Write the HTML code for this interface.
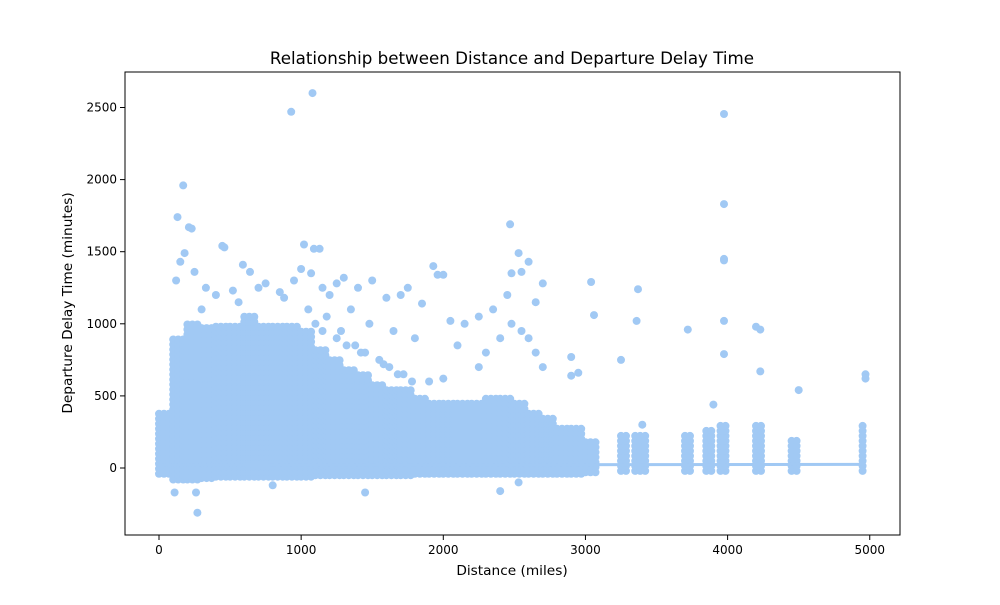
<!DOCTYPE html>
<html><head><meta charset="utf-8"><style>
body{margin:0;background:#fff;font-family:"Liberation Sans","DejaVu Sans",sans-serif;}
svg text{font-family:"DejaVu Sans","Liberation Sans",sans-serif;fill:#000;}
</style></head><body>
<svg id="chart" width="1000" height="600">
<rect width="1000" height="600" fill="#fff"/>
<g id="marks"></g>
<g id="axes"></g>
<text x="512" y="64" font-size="16.7" text-anchor="middle">Relationship between Distance and Departure Delay Time</text>
<text x="512" y="575" font-size="13.7" text-anchor="middle">Distance (miles)</text>
<text x="0" y="0" font-size="13.7" text-anchor="middle" transform="translate(72,303) rotate(-90)">Departure Delay Time (minutes)</text>
</svg>
<script>
// dense band columns (distance start, top and bottom of the cloud)
const colDist = [0,100,200,300,400,500,600,700,800,900,1000,1100,1200,1300,1400,1500,1600,1700,1800,1900,2000,2100,2200,2300,2400,2500,2600,2700,2800,2900,3000,3250,3350,3700,3850,3950,4200,4450,4950];
const colTop  = [400,900,1000,1000,1000,1000,1050,1000,1000,1000,950,850,750,700,650,600,550,550,500,450,450,450,450,500,500,450,400,350,300,300,200,250,250,250,280,300,300,200,300];
const colBot  = [-40,-80,-80,-70,-60,-60,-60,-60,-60,-60,-60,-50,-50,-50,-50,-50,-50,-50,-40,-40,-40,-40,-40,-40,-40,-40,-40,-40,-40,-40,-30,-20,-20,-20,-20,-20,-20,-20,-20];
const colWidth = [100,100,100,100,100,100,100,100,100,100,100,100,100,100,100,100,100,100,100,100,100,100,100,100,100,100,100,100,100,100,80,60,80,40,40,40,60,60,20];
// outlier points
const outX = [930,1080,170,3975,3975,3975,3975,3975,3975,130,210,230,445,460,1020,1090,1130,2470,2530,2600,2480,2550,3040,3370,3360,3060,3720,4200,4230,4230,4500,4970,4970,3250,2900,1930,1960,2000,590,640,1000,1070,270,110,260,1450,2400,2530,800,3400,3900,2950,2900,150,180,250,330,400,520,700,750,850,950,1150,1250,1300,1400,1500,1600,1700,1750,1850,2050,2150,2250,2350,2450,2650,2700,120,300,560,880,1200,1350,1480,1650,1800,2100,2300,2600,1100,1150,1250,1320,1420,1550,1620,1720,1900,2000,2250,2400,2480,2550,2650,2700,1050,1180,1280,1380,1450,1580,1680,1780];
const outY = [2470,2600,1960,2455,1830,1450,1440,1020,790,1740,1670,1660,1540,1530,1550,1520,1520,1690,1490,1430,1350,1360,1290,1240,1020,1060,960,980,960,670,540,650,620,750,770,1400,1340,1340,1410,1360,1380,1350,-310,-170,-170,-170,-160,-100,-120,300,440,660,640,1430,1490,1360,1250,1200,1230,1250,1280,1220,1300,1250,1280,1320,1250,1300,1180,1200,1250,1140,1020,1000,1050,1100,1200,1150,1280,1300,1100,1150,1180,1200,1100,1000,950,900,850,800,900,1000,950,900,850,800,750,700,650,600,620,700,900,1000,950,800,700,1100,1050,950,850,800,720,650,600];
const xTicks=[0,1000,2000,3000,4000,5000];
const yTicks=[0,500,1000,1500,2000,2500];
const fitX=[0,4970], fitY=[20,25];

const X=d=>159+d*0.14215;
const Y=v=>468-v*0.1442;
const NS="http://www.w3.org/2000/svg";
const marks=document.getElementById('marks'), axes=document.getElementById('axes');
const C="#a1c9f4";
function dot(x,y){
  const c=document.createElementNS(NS,'circle');
  c.setAttribute('cx',x.toFixed(1));c.setAttribute('cy',y.toFixed(1));c.setAttribute('r',4);c.setAttribute('fill',C);
  
  
  marks.appendChild(c);
}
colDist.forEach((d,i)=>{
  const x0=X(d),x1=X(d+colWidth[i]);
  for(let x=x0;x<=x1;x+=5){
    for(let y=Y(colBot[i]);y>=Y(colTop[i]);y-=5) dot(x,y);
  }
});
outX.forEach((d,i)=>dot(X(d),Y(outY[i])));
const ln=document.createElementNS(NS,'line');
ln.setAttribute('x1',X(fitX[0]));ln.setAttribute('y1',Y(fitY[0]));ln.setAttribute('x2',X(fitX[1]));ln.setAttribute('y2',Y(fitY[1]));
ln.setAttribute('stroke',C);ln.setAttribute('stroke-width',3);


marks.appendChild(ln);
const fr=document.createElementNS(NS,'rect');
fr.setAttribute('x',125);fr.setAttribute('y',72);fr.setAttribute('width',775);fr.setAttribute('height',463);
fr.setAttribute('fill','none');fr.setAttribute('stroke','#000');fr.setAttribute('stroke-width',1);


axes.appendChild(fr);
xTicks.forEach(t=>{
  const l=document.createElementNS(NS,'line');
  l.setAttribute('x1',X(t));l.setAttribute('x2',X(t));l.setAttribute('y1',535);l.setAttribute('y2',540);l.setAttribute('stroke','#000');
  
  
  axes.appendChild(l);
  const tx=document.createElementNS(NS,'text');
  tx.setAttribute('x',X(t));tx.setAttribute('y',554);tx.setAttribute('font-size',12);tx.setAttribute('text-anchor','middle');tx.textContent=t;
  
  
  axes.appendChild(tx);
});
yTicks.forEach(t=>{
  const l=document.createElementNS(NS,'line');
  l.setAttribute('x1',120);l.setAttribute('x2',125);l.setAttribute('y1',Y(t));l.setAttribute('y2',Y(t));l.setAttribute('stroke','#000');
  
  
  axes.appendChild(l);
  const tx=document.createElementNS(NS,'text');
  tx.setAttribute('x',117);tx.setAttribute('y',Y(t)+4);tx.setAttribute('font-size',12);tx.setAttribute('text-anchor','end');tx.textContent=t;
  
  
  axes.appendChild(tx);
});
</script>
</body></html>
